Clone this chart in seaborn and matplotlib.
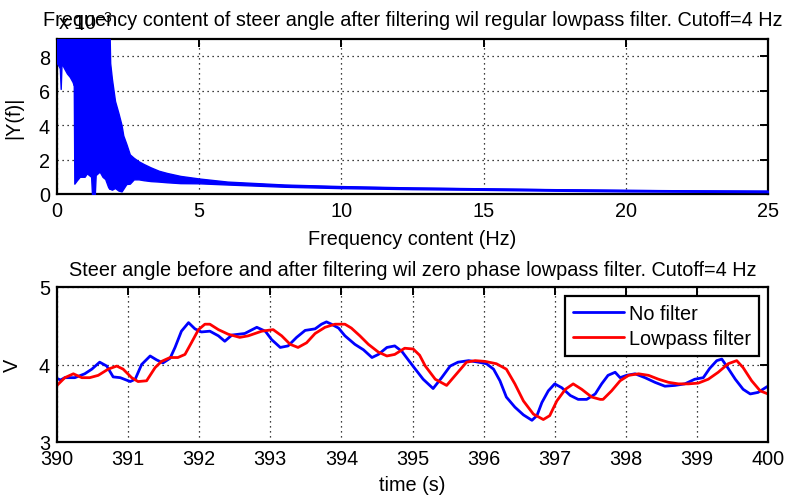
import numpy as np
import pandas as pd
import matplotlib
matplotlib.use("Agg")
import matplotlib.pyplot as plt
import seaborn as sns
from matplotlib.ticker import FuncFormatter, MultipleLocator

# ---- spectrum |Y(f)| band (values in units of 1e-3) ----
spec_freq = [0.00, 0.10, 0.13, 0.16, 0.25, 0.35, 0.45, 0.55, 0.59, 0.61,
             0.70, 0.80, 0.97, 1.05, 1.20, 1.23, 1.33, 1.36, 1.50, 1.60,
             1.67, 1.69, 1.71, 1.80, 1.84, 1.87, 1.93, 2.04, 2.16, 2.27,
             2.33, 2.44, 2.56, 2.70, 2.87, 3.05, 3.29, 3.58, 3.87, 4.34,
             5.00, 6.00, 8.00, 10.0, 12.5, 15.0, 17.5, 20.0, 22.5, 25.0]
spec_low = [7.6, 7.3, 6.1, 7.6, 7.3, 7.0, 6.8, 6.5, 6.3, 0.6,
            0.8, 1.0, 1.0, 1.2, 1.0, 0.0, 0.0, 1.1, 1.3, 1.0,
            0.9, 0.9, 0.8, 0.4, 0.3, 0.3, 0.25, 0.35, 0.2, 0.15,
            0.3, 0.58, 0.6, 0.85, 0.85, 0.8, 0.75, 0.72, 0.68, 0.63,
            0.62, 0.55, 0.42, 0.34, 0.28, 0.24, 0.19, 0.15, 0.13, 0.11]
spec_high = [12, 12, 12, 12, 12, 12, 12, 12, 12, 12,
             12, 12, 12, 12, 12, 12, 12, 12, 12, 12,
             12, 7.7, 12, 12, 10, 7.6, 6.7, 5.4, 4.7, 4.0,
             3.4, 2.9, 2.3, 2.1, 1.9, 1.74, 1.55, 1.35, 1.22, 1.05,
             0.9, 0.72, 0.55, 0.46, 0.38, 0.33, 0.28, 0.24, 0.21, 0.19]

# ---- steer angle, unfiltered ----
raw_time = [390.00, 390.05, 390.11, 390.25, 390.39, 390.49, 390.60, 390.70, 390.79, 390.89,
            391.03, 391.10, 391.19, 391.31, 391.40, 391.49, 391.59, 391.66, 391.75, 391.85,
            391.94, 392.03, 392.15, 392.27, 392.36, 392.46, 392.64, 392.81, 392.93, 393.02,
            393.14, 393.25, 393.37, 393.49, 393.63, 393.72, 393.79, 393.86, 393.96, 394.05,
            394.19, 394.31, 394.43, 394.52, 394.64, 394.75, 394.85, 394.94, 395.04, 395.15,
            395.29, 395.41, 395.53, 395.64, 395.79, 395.93, 396.04, 396.14, 396.23, 396.32,
            396.44, 396.56, 396.68, 396.75, 396.82, 396.91, 397.00, 397.10, 397.22, 397.33,
            397.45, 397.57, 397.66, 397.75, 397.85, 397.92, 398.01, 398.13, 398.27, 398.41,
            398.55, 398.69, 398.83, 398.97, 399.09, 399.18, 399.28, 399.35, 399.44, 399.54,
            399.65, 399.75, 399.86, 399.98, 400.00]
raw_volt = [3.82, 3.80, 3.83, 3.83, 3.88, 3.94, 4.03, 3.98, 3.84, 3.83,
            3.78, 3.81, 4.00, 4.11, 4.06, 4.02, 4.08, 4.22, 4.43, 4.54,
            4.46, 4.42, 4.43, 4.37, 4.30, 4.38, 4.40, 4.48, 4.43, 4.32,
            4.22, 4.24, 4.35, 4.44, 4.46, 4.52, 4.55, 4.52, 4.47, 4.37,
            4.26, 4.19, 4.09, 4.13, 4.22, 4.24, 4.17, 4.06, 3.94, 3.81,
            3.69, 3.83, 3.98, 4.03, 4.05, 4.03, 4.01, 3.94, 3.79, 3.58,
            3.45, 3.35, 3.28, 3.34, 3.51, 3.66, 3.75, 3.70, 3.60, 3.55,
            3.55, 3.62, 3.75, 3.86, 3.90, 3.83, 3.86, 3.88, 3.83, 3.77,
            3.72, 3.73, 3.75, 3.81, 3.83, 3.95, 4.05, 4.07, 3.95, 3.81,
            3.68, 3.62, 3.64, 3.71, 3.72]

# ---- steer angle, zero-phase lowpass ----
filt_time = [390.00, 390.11, 390.23, 390.35, 390.46, 390.58, 390.72, 390.84, 390.93, 391.05,
             391.14, 391.26, 391.38, 391.47, 391.59, 391.70, 391.80, 391.89, 391.99, 392.08,
             392.15, 392.27, 392.41, 392.57, 392.69, 392.88, 393.04, 393.16, 393.28, 393.39,
             393.51, 393.63, 393.77, 393.91, 394.05, 394.14, 394.26, 394.38, 394.52, 394.64,
             394.75, 394.89, 395.01, 395.10, 395.18, 395.32, 395.48, 395.62, 395.76, 395.88,
             396.02, 396.18, 396.32, 396.44, 396.56, 396.70, 396.84, 396.93, 397.03, 397.15,
             397.26, 397.38, 397.52, 397.64, 397.68, 397.80, 397.92, 398.04, 398.18, 398.32,
             398.46, 398.60, 398.74, 398.88, 399.02, 399.16, 399.30, 399.44, 399.56, 399.65,
             399.77, 399.89, 400.00]
filt_volt = [3.73, 3.83, 3.88, 3.83, 3.83, 3.86, 3.94, 3.98, 3.94, 3.83,
             3.78, 3.79, 3.96, 4.04, 4.09, 4.09, 4.13, 4.28, 4.45, 4.52,
             4.52, 4.45, 4.39, 4.35, 4.37, 4.43, 4.45, 4.37, 4.26, 4.22,
             4.28, 4.40, 4.48, 4.52, 4.52, 4.47, 4.37, 4.26, 4.16, 4.11,
             4.13, 4.21, 4.20, 4.12, 3.98, 3.81, 3.73, 3.88, 4.03, 4.05,
             4.04, 4.01, 3.94, 3.75, 3.53, 3.36, 3.29, 3.34, 3.53, 3.68,
             3.75, 3.68, 3.58, 3.55, 3.55, 3.66, 3.79, 3.86, 3.88, 3.86,
             3.81, 3.77, 3.75, 3.75, 3.76, 3.81, 3.90, 4.01, 4.05, 3.96,
             3.79, 3.66, 3.62]

series_labels = ["No filter", "Lowpass filter"]
series_colors = ["#0000ff", "#ff0000"]

sns.set_theme(style="white")
plt.rcParams["font.family"] = ["Liberation Sans", "DejaVu Sans"]
plt.rcParams["mathtext.default"] = "regular"
plt.rcParams["text.color"] = "black"
plt.rcParams["axes.labelcolor"] = "black"

W, H = 788, 502
fig = plt.figure(figsize=(W / 100, H / 100), dpi=100)
fig.patch.set_facecolor("white")


def box(left, top, right, bottom):
    return [left / W, 1 - bottom / H, (right - left) / W, (bottom - top) / H]


ax1 = fig.add_axes(box(57, 40, 768, 195))
ax2 = fig.add_axes(box(57, 288, 768, 443))

FS = 14.3
dot_grid = dict(color="black", linestyle=(0, (1, 3)), linewidth=0.9)


def matlab_axes(ax):
    for s in ax.spines.values():
        s.set_visible(True)
        s.set_color("black")
        s.set_linewidth(1.6)
    ax.tick_params(direction="in", top=True, right=True, length=6, width=1.4,
                   colors="black", labelsize=FS, pad=5)
    ax.grid(True, **dot_grid)
    ax.set_axisbelow(True)


# ---- top: spectrum ----
scale = 1e-3
f_arr = np.array(spec_freq)
lo = np.array(spec_low) * scale
hi = np.array(spec_high) * scale
ax1.fill_between(f_arr, lo, hi, color="#0000ff", linewidth=1.0,
                 edgecolor="#0000ff", zorder=3)
sns.lineplot(x=f_arr, y=(lo + hi) / 2, ax=ax1, color="#0000ff",
             linewidth=1.2, zorder=3)
ax1.set_xlim(0, 25)
ax1.set_ylim(0, 9e-3)
ax1.xaxis.set_major_locator(MultipleLocator(5))
ax1.yaxis.set_major_locator(MultipleLocator(2e-3))
ax1.yaxis.set_major_formatter(FuncFormatter(lambda v, p: f"{v / scale:.0f}"))
matlab_axes(ax1)
ax1.set_xlabel("Frequency content (Hz)", fontsize=FS)
ax1.xaxis.set_label_coords(0.5, -0.225)
ax1.set_ylabel("|Y(f)|", fontsize=FS)
ax1.yaxis.set_label_coords(-0.048, 0.5)
ax1.text(0.002, 1.065, "x 10$^{-3}$", transform=ax1.transAxes, fontsize=FS,
         ha="left", va="baseline")
ax1.set_title("Frequency content of steer angle after filtering wil regular "
              "lowpass filter. Cutoff=4 Hz", fontsize=FS, pad=10)

# ---- bottom: time series ----
df = pd.concat([
    pd.DataFrame({"time": raw_time, "volt": raw_volt, "series": series_labels[0]}),
    pd.DataFrame({"time": filt_time, "volt": filt_volt, "series": series_labels[1]}),
])
sns.lineplot(data=df, x="time", y="volt", hue="series", hue_order=series_labels,
             palette=series_colors, estimator=None, sort=False, linewidth=2.0,
             ax=ax2)
ax2.set_xlim(390, 400)
ax2.set_ylim(3, 5)
ax2.xaxis.set_major_locator(MultipleLocator(1))
ax2.yaxis.set_major_locator(MultipleLocator(1))
matlab_axes(ax2)
ax2.set_xlabel("time (s)", fontsize=FS)
ax2.xaxis.set_label_coords(0.5, -0.215)
ax2.set_ylabel("V", fontsize=FS)
ax2.yaxis.set_label_coords(-0.049, 0.5)
ax2.set_title("Steer angle before and after filtering wil zero phase lowpass "
              "filter. Cutoff=4 Hz", fontsize=FS, pad=9)

handles, labels = ax2.get_legend_handles_labels()
leg = ax2.legend(handles, labels, loc="upper right", fontsize=FS, frameon=True,
                 fancybox=False, framealpha=1, edgecolor="black",
                 handlelength=2.6, handletextpad=0.25, labelspacing=0.3,
                 borderpad=0.4, borderaxespad=0.45)
leg.get_frame().set_linewidth(1.6)
for line in leg.get_lines():
    line.set_linewidth(2.0)

fig.savefig("out.png", dpi=100, facecolor="white")
